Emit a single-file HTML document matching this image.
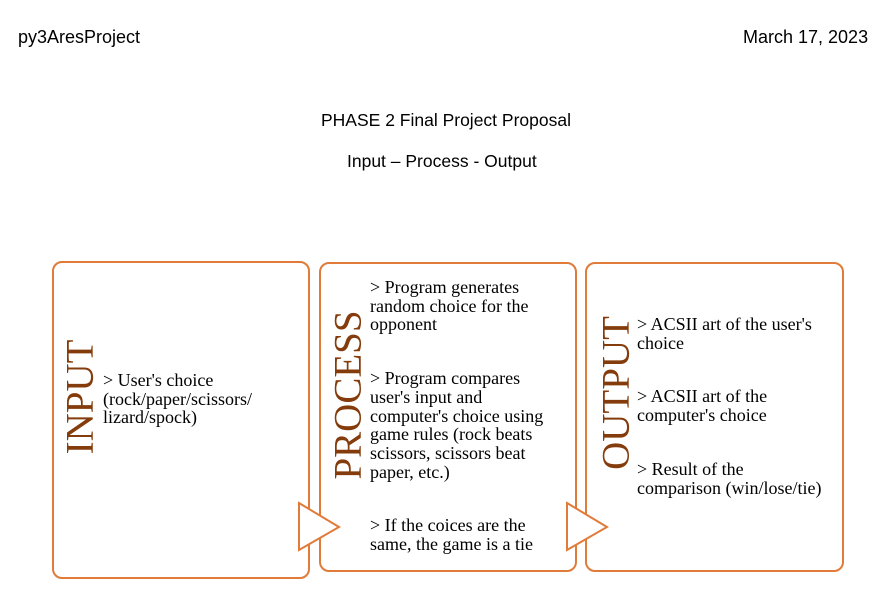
<!DOCTYPE html>
<html><head><style>
body{margin:0;width:892px;height:608px;background:#fff;position:relative;overflow:hidden;font-family:"Liberation Sans",sans-serif;}
.t{position:absolute;font-size:17.5px;color:#000;white-space:nowrap}
.box{position:absolute;border:2px solid #E07B39;border-radius:10px;background:#fff;box-sizing:border-box}
.v{position:absolute;font-family:"Liberation Serif",serif;font-size:39px;color:#843C0C;transform:translate(-50%,-50%) rotate(-90deg);white-space:nowrap;line-height:1}
.p{position:absolute;font-family:"Liberation Serif",serif;font-size:18px;line-height:18.7px;color:#000;white-space:nowrap}
.p div{margin-bottom:35px}
</style></head><body>
<div class="t" style="left:18px;top:27px;font-size:18px">py3AresProject</div>
<div class="t" style="left:743px;top:27px;font-size:18px">March 17, 2023</div>
<div class="t" style="left:321px;top:110px">PHASE 2 Final Project Proposal</div>
<div class="t" style="left:347px;top:151px">Input – Process - Output</div>

<div class="box" style="left:52px;top:261px;width:258px;height:318px"></div>
<div class="box" style="left:319px;top:262px;width:258px;height:310px"></div>
<div class="box" style="left:585px;top:262px;width:259px;height:310px"></div>

<svg style="position:absolute;left:0;top:0" width="892" height="608">
<polygon points="299,503 339,527 299,550" fill="#fff" stroke="#E07B39" stroke-width="2"/>
<polygon points="567,503 607,527 567,550" fill="#fff" stroke="#E07B39" stroke-width="2"/>
</svg>

<div class="v" style="left:80px;top:397px">INPUT</div>
<div class="v" style="left:348px;top:395px">PROCESS</div>
<div class="v" style="left:616px;top:393px">OUTPUT</div>

<div class="p" style="left:103px;top:371px">&gt; User's choice<br>(rock/paper/scissors/<br>lizard/spock)</div>
<div class="p" style="left:370px;top:278px">
<div>&gt; Program generates<br>random choice for the<br>opponent</div>
<div>&gt; Program compares<br>user's input and<br>computer's choice using<br>game rules (rock beats<br>scissors, scissors beat<br>paper, etc.)</div>
<div>&gt; If the coices are the<br>same, the game is a tie</div>
</div>
<div class="p" style="left:637px;top:315px">
<div>&gt; ACSII art of the user's<br>choice</div>
<div>&gt; ACSII art of the<br>computer's choice</div>
<div>&gt; Result of the<br>comparison (win/lose/tie)</div>
</div>
</body></html>
